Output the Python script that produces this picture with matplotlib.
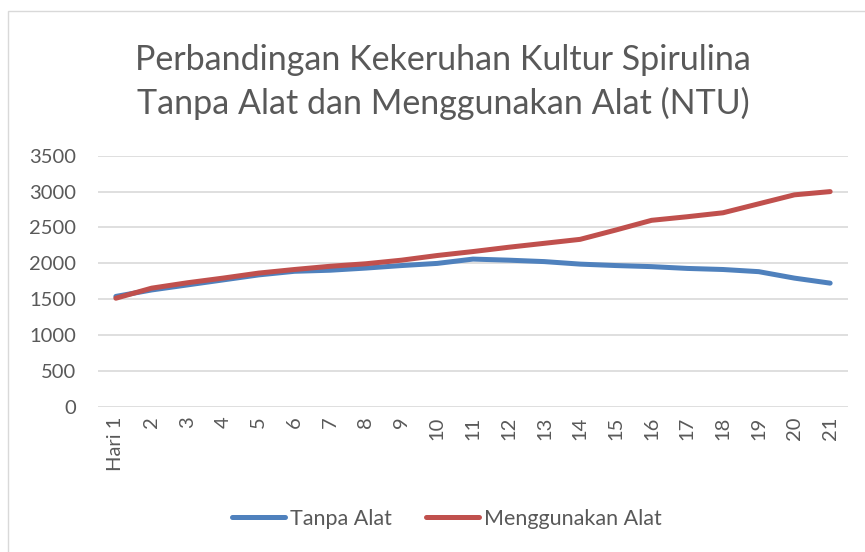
import matplotlib.pyplot as plt
from matplotlib.patches import Rectangle

# data
hari = ['Hari 1'] + [str(i) for i in range(2, 22)]
tanpa_alat = [1540, 1630, 1700, 1770, 1840, 1890, 1905, 1935, 1970, 2000,
              2060, 2045, 2025, 1990, 1970, 1955, 1930, 1915, 1885, 1795, 1725]
menggunakan_alat = [1515, 1655, 1730, 1795, 1865, 1915, 1960, 1995, 2045, 2110,
                    2165, 2225, 2280, 2335, 2465, 2600, 2650, 2705, 2830, 2955, 3000]
y_ticks = [0, 500, 1000, 1500, 2000, 2500, 3000, 3500]

TEXT_COLOR = '#595959'
BLUE = '#4F81BD'
RED = '#C0504D'

plt.rcParams['font.family'] = ['Lato', 'DejaVu Sans']

fig = plt.figure(figsize=(8.65, 5.52), dpi=100)
W, H = 865, 552

# chart area border
fig.patches.append(Rectangle((8 / W, -0.05), 1.0, 1 - 11 / H + 0.05,
                             transform=fig.transFigure, fill=False,
                             edgecolor='#D9D9D9', linewidth=1))

ax = fig.add_axes([98 / W, 1 - 407 / H, 750 / W, (407 - 155.7) / H])
x = list(range(len(hari)))
ax.plot(x, tanpa_alat, color=BLUE, linewidth=3.6, solid_capstyle='round', label='Tanpa Alat')
ax.plot(x, menggunakan_alat, color=RED, linewidth=3.6, solid_capstyle='round', label='Menggunakan Alat')

ax.set_xlim(-0.5, len(hari) - 0.5)
ax.set_ylim(0, 3500)
ax.set_yticks(y_ticks)
ax.set_xticks(x)
ax.set_xticklabels(hari, rotation=90)
ax.yaxis.grid(True, color='#D9D9D9', linewidth=1.2)
ax.set_axisbelow(True)
for s in ax.spines.values():
    s.set_visible(False)
ax.tick_params(axis='both', length=0, labelsize=14.5, labelcolor=TEXT_COLOR)
ax.tick_params(axis='y', pad=16)
ax.tick_params(axis='x', pad=7)

fig.text(443 / W, 1 - 60 / H, 'Perbandingan Kekeruhan Kultur Spirulina',
         ha='center', va='center', fontsize=24.5, color=TEXT_COLOR)
fig.text(443 / W, 1 - 103 / H, 'Tanpa Alat dan Menggunakan Alat (NTU)',
         ha='center', va='center', fontsize=24.5, color=TEXT_COLOR)

leg = fig.legend(loc='center', bbox_to_anchor=(447 / W, 1 - 519 / H), ncol=2,
                 frameon=False, fontsize=15.5, handlelength=2.45, handletextpad=0.23,
                 columnspacing=1.6)
for t in leg.get_texts():
    t.set_color(TEXT_COLOR)

fig.savefig('out.png', dpi=100)
